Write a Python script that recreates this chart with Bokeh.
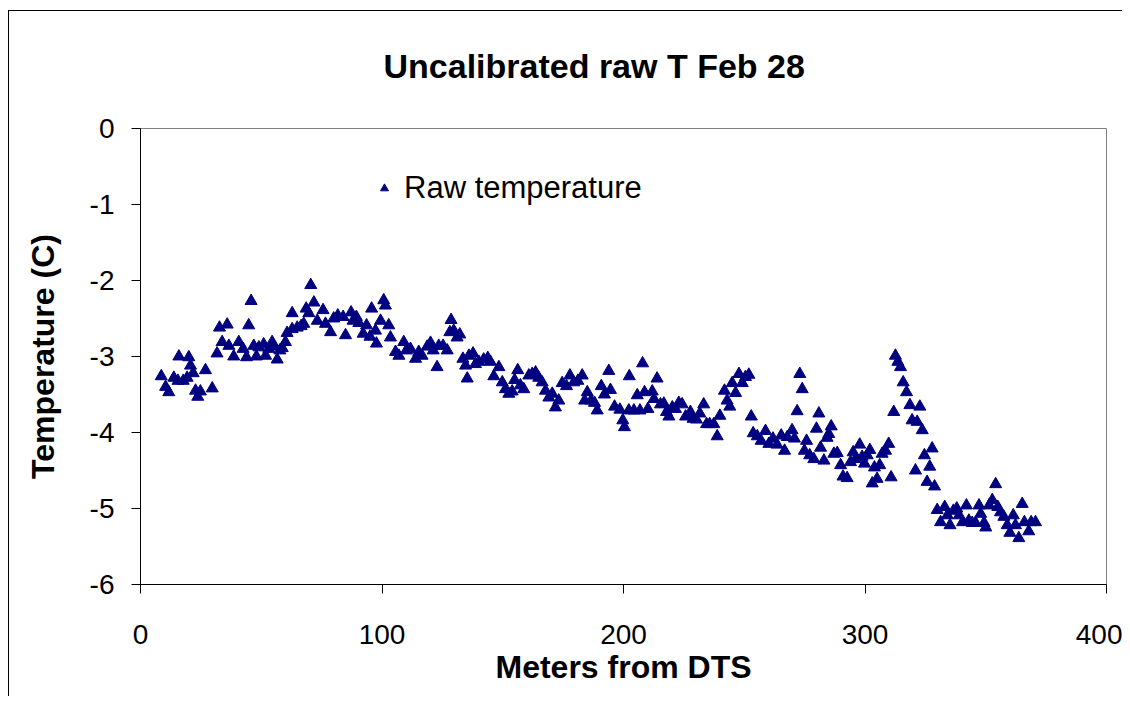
from bokeh.plotting import figure
from bokeh.models import ColumnDataSource, Legend, LegendItem, FixedTicker
from bokeh.embed import file_html
from bokeh.resources import INLINE

# ---- data ----
meters = [
    8.6, 10.4, 11.7, 13.8, 15.5, 15.9, 17.7, 19.3, 20.0, 20.7, 21.8, 22.8, 23.7, 24.8, 26.9, 29.7,
    31.7, 32.7, 33.8, 35.9, 36.6, 38.6, 40.7, 42.5, 43.9, 44.8, 45.8, 46.9, 48.0, 49.0, 51.0, 51.8,
    53.1, 54.5, 55.2, 56.6, 57.7, 58.7, 60.0, 60.7, 62.8, 62.8, 64.9, 66.5, 67.6, 68.6, 69.7, 70.5,
    71.8, 73.2, 75.6, 76.6, 78.7, 80.0, 81.7, 83.9, 84.9, 87.2, 88.0, 89.4, 90.4, 92.2, 93.6, 95.0,
    95.7, 97.3, 97.7, 99.4, 100.7, 101.4, 102.8, 103.5, 105.6, 107.0, 109.0, 110.1, 111.8, 113.9,
    115.2, 116.6, 118.7, 120.1, 121.2, 122.8, 123.5, 125.3, 127.0, 128.1, 128.6, 129.7, 131.1, 132.2,
    133.5, 134.6, 135.3, 136.0,
    137.7, 138.7, 140.1, 142.1, 143.8, 144.9, 146.3, 148.4, 149.8, 151.1, 152.5, 153.9, 154.9, 156.2,
    157.3, 158.7, 160.8, 162.2, 163.6, 164.9, 166.3, 167.7, 169.1, 170.5, 171.8, 173.2, 174.6, 176.4,
    177.8, 179.4, 181.1, 182.9, 183.9, 185.0, 186.6, 188.0, 189.1, 190.8, 192.1, 193.9, 194.6, 196.3,
    198.5, 199.7, 200.4,
    202.4, 202.2, 204.3, 205.7, 206.8, 207.9, 208.7, 210.1, 211.9, 212.6, 213.9, 215.3, 216.7, 217.8,
    218.8, 220.2, 221.5, 222.9, 224.3, 225.7, 227.7, 228.8, 230.2, 231.6, 233.2, 234.4, 235.7, 237.4,
    238.8, 239.9, 241.8, 242.9, 244.0, 245.0, 246.4, 247.8, 249.2, 250.5, 251.9, 252.9, 253.7, 255.4,
    257.0, 258.8, 260.2, 261.9, 263.6, 265.3, 266.7, 267.8,
    269.8, 270.8, 271.9, 273.0, 274.0, 274.9, 275.8, 277.1, 278.8, 279.9, 280.9, 281.6, 283.0, 284.3,
    285.0, 286.0, 287.1, 288.5, 289.9, 290.9, 292.6, 294.0, 295.1, 296.1, 297.8, 298.8, 299.8, 300.9,
    302.0, 303.0, 303.9, 305.0, 306.1, 307.1, 308.5, 309.8, 310.8, 311.9, 312.6, 313.6, 314.7, 315.8,
    317.2, 318.6, 319.5, 320.9, 321.6, 322.7, 323.7, 324.6, 325.7, 326.8, 327.8, 328.8,
    329.9, 331.3, 333.0, 334.1, 335.2, 336.6, 338.0, 339.0, 340.4, 342.0, 343.0, 344.4, 345.8, 347.2,
    347.9, 349.3, 350.0, 351.4, 352.7, 354.1, 355.0, 356.1, 357.5, 358.9, 360.0, 361.4, 362.3, 363.7,
    365.1, 366.0, 367.8, 368.8, 370.6,
]
raw_temperature = [
    -3.26, -3.40, -3.47, -3.28, -3.32, -3.00, -3.32, -3.28, -3.01, -3.12, -3.22, -3.45, -3.53, -3.46, -3.18, -3.42,
    -2.96, -2.62, -2.81, -2.58, -2.86, -3.00, -2.81, -2.90, -3.01, -2.59, -2.27, -2.86, -3.00, -2.88, -2.84, -2.99,
    -2.90, -2.81, -2.87, -3.04, -2.92, -2.89, -2.81, -2.69, -2.43, -2.64, -2.62, -2.60, -2.57, -2.37, -2.43, -2.06,
    -2.29, -2.53, -2.39, -2.57, -2.68, -2.50, -2.46, -2.48, -2.72, -2.42, -2.53, -2.48, -2.56, -2.70, -2.59, -2.74,
    -2.37, -2.66, -2.83, -2.53, -2.26, -2.33, -2.59, -2.75, -2.94, -2.99, -2.81, -2.92, -2.90, -3.03,
    -2.94, -2.99, -2.87, -2.82, -2.92, -3.14, -2.86, -2.86, -2.92, -2.68, -2.52, -2.66, -2.75, -2.71,
    -3.03, -3.12, -3.29, -2.99,
    -2.96, -3.10, -3.07, -3.04, -3.02, -3.07, -3.26, -3.14, -3.34, -3.43, -3.49, -3.46, -3.31, -3.18,
    -3.38, -3.43, -3.25, -3.23, -3.21, -3.28, -3.34, -3.45, -3.54, -3.49, -3.67, -3.58, -3.35, -3.39,
    -3.25, -3.34, -3.32, -3.25, -3.58, -3.47, -3.58, -3.61, -3.71, -3.39, -3.50, -3.19, -3.44, -3.66,
    -3.70, -3.84, -3.93,
    -3.26, -3.71, -3.71, -3.51, -3.71, -3.09, -3.47, -3.69, -3.46, -3.56, -3.29, -3.63, -3.62, -3.73,
    -3.79, -3.67, -3.69, -3.61, -3.63, -3.79, -3.73, -3.82, -3.83, -3.75, -3.63, -3.89, -3.89, -3.89,
    -4.05, -3.78, -3.45, -3.58, -3.66, -3.35, -3.48, -3.23, -3.35, -3.27, -3.24, -3.79, -4.01, -4.05,
    -4.11, -3.98, -4.15, -4.08, -4.16, -4.04, -4.24, -4.06,
    -3.97, -4.08, -3.72, -3.23, -3.43, -4.24, -4.11, -4.30, -4.35, -3.95, -3.75, -4.20, -4.37, -4.07,
    -4.02, -3.92, -4.28, -4.27, -4.43, -4.58, -4.60, -4.39, -4.26, -4.35, -4.16, -4.32, -4.41, -4.30,
    -4.23, -4.67, -4.46, -4.61, -4.43, -4.28, -4.24, -4.15, -4.59, -3.73, -2.99, -3.07, -3.14, -3.34,
    -3.47, -3.64, -3.84, -4.50, -3.86, -3.66, -3.97, -4.30, -4.65, -4.45, -4.21, -4.71,
    -5.02, -5.18, -4.98, -5.09, -5.22, -5.03, -5.00, -5.09, -5.18, -4.96, -5.16, -5.19, -5.19, -4.96,
    -5.07, -5.19, -5.25, -4.96, -4.89, -4.68, -4.98, -5.05, -5.11, -5.22, -5.32, -5.09, -5.22, -5.39,
    -4.94, -5.18, -5.30, -5.18, -5.18,
]
x_ticks = [0, 100, 200, 300, 400]
y_ticks = [0, -1, -2, -3, -4, -5, -6]
series_name = "Raw temperature"
chart_title = "Uncalibrated raw T Feb 28"
x_label = "Meters from DTS"
y_label = "Temperature (C)"

FONT = "Liberation Sans"
NAVY = "#000080"

source = ColumnDataSource(data=dict(x=meters, y=raw_temperature))

p = figure(
    width=1122, height=696,
    x_range=(0, 400), y_range=(-6, 0),
    output_backend="svg", toolbar_location=None, tools="",
    min_border_left=140, min_border_right=16, min_border_top=128, min_border_bottom=112,
    background_fill_color="white", border_fill_alpha=0,
)
# outer chart-area border: only its left and top edges fall inside the window
p.styles = {
    "background-color": "white",
    "box-shadow": ("inset 0px 10px 0px 0px white, inset 8px 0px 0px 0px white, "
                   "inset 0px 11px 0px 0px black, inset 9px 0px 0px 0px black"),
}

p.title.text = chart_title
p.title.text_font = FONT
p.title.text_font_size = "34px"
p.title.text_font_style = "bold"
p.title.text_color = "black"
p.title.align = "left"
p.title.offset = 243
p.title.standoff = 87

p.outline_line_color = "#808080"
p.outline_line_width = 1
p.xgrid.visible = False
p.ygrid.visible = False

for ax in (p.xaxis[0], p.yaxis[0]):
    ax.axis_line_color = "black"
    ax.axis_line_width = 1
    ax.major_tick_line_color = "black"
    ax.major_tick_out = 9
    ax.major_tick_in = 0
    ax.minor_tick_line_color = None
    ax.major_label_text_font = FONT
    ax.major_label_text_font_size = "28px"
    ax.major_label_text_color = "black"
    ax.axis_label_text_font = FONT
    ax.axis_label_text_font_size = "32px"
    ax.axis_label_text_font_style = "bold"
    ax.axis_label_text_color = "black"

p.xaxis[0].ticker = FixedTicker(ticks=x_ticks)
p.yaxis[0].ticker = FixedTicker(ticks=y_ticks)
p.xaxis[0].major_label_overrides = {t: str(t) for t in x_ticks}
p.yaxis[0].major_label_overrides = {t: str(t) for t in y_ticks}
p.xaxis[0].axis_label = x_label
p.yaxis[0].axis_label = y_label
p.xaxis[0].major_label_standoff = 31
p.yaxis[0].major_label_standoff = 17
p.xaxis[0].axis_label_standoff = 2
p.yaxis[0].axis_label_standoff = 26

r = p.scatter("x", "y", source=source, marker="triangle", size=12,
              fill_color=NAVY, line_color=NAVY, line_width=1)

legend = Legend(
    items=[LegendItem(label=series_name, renderers=[r])],
    location=(234, 378),
    border_line_color=None, background_fill_alpha=0,
    padding=0, margin=0, spacing=0,
    glyph_width=20, glyph_height=20, label_standoff=10, label_height=20,
    label_text_font=FONT, label_text_font_size="31px", label_text_color="black",
)
p.add_layout(legend)

open("out.html", "w").write(file_html(p, INLINE))
